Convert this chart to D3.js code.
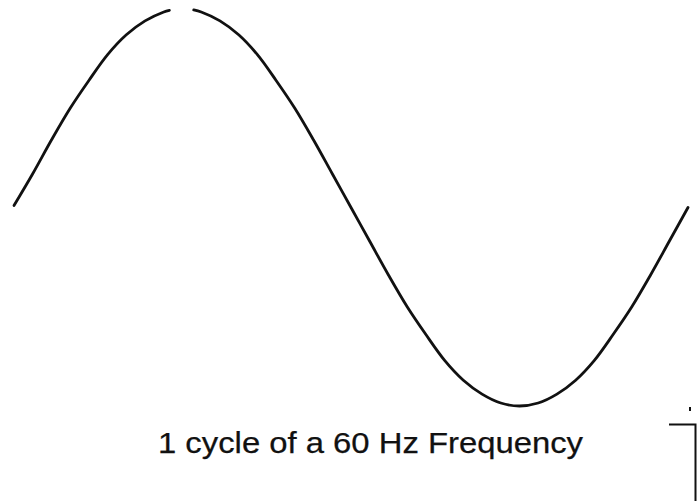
<!DOCTYPE html>
<html>
<head>
<meta charset="utf-8">
<script src="https://cdn.jsdelivr.net/npm/d3@7/dist/d3.min.js"></script>
<style>
html,body{margin:0;padding:0;background:#fff;}
svg{display:block;}
</style>
</head>
<body>
<svg id="chart" width="698" height="501"></svg>
<script>
// Phase angle (degrees) of each sample point along the drawn cycle
const phaseDeg = [0, 10, 20, 30, 40, 50, 60, 70, 80, 83, 96, 100, 110, 120, 130, 140, 150, 160, 170, 180,
  190, 200, 210, 220, 230, 240, 250, 260, 270, 280, 290, 300, 310, 320, 330, 340, 350, 360];
// Relative amplitude (gap in the scanned line near the peak)
const amplitude = [0.01, 0.17, 0.34, 0.50, 0.64, 0.77, 0.87, 0.94, 0.985, 0.993, 0.995, 0.985, 0.94, 0.87, 0.77, 0.64, 0.50, 0.34, 0.17, 0.0,
  -0.17, -0.34, -0.50, -0.64, -0.77, -0.87, -0.94, -0.985, -1.0, -0.985, -0.94, -0.87, -0.77, -0.64, -0.50, -0.34, -0.17, 0.0];
const gapFrom = 83, gapTo = 96;
const caption = "1 cycle of a 60 Hz Frequency";

const svg = d3.select("#chart");
const x = d3.scaleLinear().domain([0, 360]).range([14, 688]);
const y = d3.scaleLinear().domain([-1, 1]).range([406, 9]);

const pts = phaseDeg.map((d, i) => ({ p: d, v: amplitude[i] }));
const line = d3.line()
  .x(d => x(d.p)).y(d => y(d.v))
  .curve(d3.curveCatmullRom);

const seg1 = pts.filter(d => d.p <= gapFrom);
const seg2 = pts.filter(d => d.p >= gapTo);
[seg1, seg2].forEach(s => {
  svg.append("path").datum(s)
    .attr("d", line)
    .attr("fill", "none")
    .attr("stroke", "#111")
    .attr("stroke-width", 2.8)
    .attr("stroke-linecap", "round");
});

svg.append("text")
  .attr("x", 158).attr("y", 453)
  .attr("font-family", "'Liberation Sans', Arial, sans-serif")
  .attr("font-size", 29)
  .attr("textLength", 425)
  .attr("lengthAdjust", "spacingAndGlyphs")
  .attr("fill", "#111")
  .attr("stroke", "#111")
  .attr("stroke-width", 0.25)
  .text(caption);

// corner bracket mark at lower right
svg.append("path")
  .attr("d", "M669,424.5 H695.5 V501")
  .attr("fill", "none").attr("stroke", "#111").attr("stroke-width", 2);
svg.append("rect").attr("x", 689).attr("y", 407).attr("width", 2).attr("height", 4).attr("fill", "#111");
</script>
</body>
</html>
